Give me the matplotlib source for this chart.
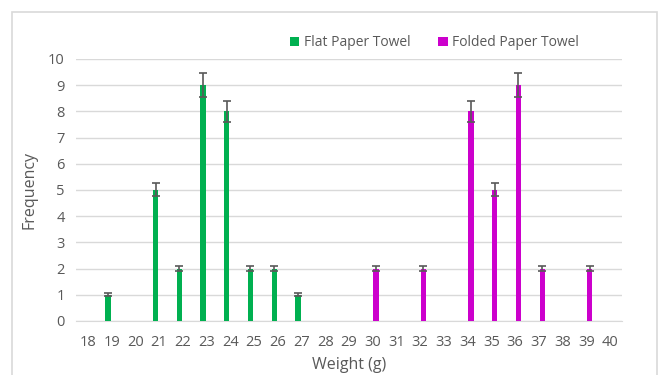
import matplotlib.pyplot as plt
import numpy as np
from matplotlib.patches import Rectangle

weights = list(range(18, 41))
flat = [0, 1, 0, 5, 2, 9, 8, 2, 2, 1, 0, 0, 0, 0, 0, 0, 0, 0, 0, 0, 0, 0, 0]
folded = [0, 0, 0, 0, 0, 0, 0, 0, 0, 0, 0, 0, 2, 0, 2, 0, 8, 5, 9, 2, 0, 2, 0]

plt.rcParams['font.family'] = ['Open Sans', 'DejaVu Sans']
grey = '#595959'

fig = plt.figure(figsize=(6.6, 3.75), dpi=100)
ax = fig.add_axes([0.1152, 0.144, 0.827, 0.699])

x = np.arange(len(weights))
flat = np.array(flat, dtype=float)
folded = np.array(folded, dtype=float)
w = 0.22

# only plot nonzero values so empty categories get no error caps
m1 = flat > 0
m2 = folded > 0
ax.bar(x[m1] - 0.15, flat[m1], width=w, color='#00B050', label='Flat Paper Towel', zorder=3)
ax.bar(x[m2] + 0.14, folded[m2], width=w, color='#CC00CC', label='Folded Paper Towel', zorder=3)
ax.errorbar(x[m1] - 0.15, flat[m1], yerr=0.05 * flat[m1], fmt='none', ecolor=grey,
            elinewidth=1.2, capsize=3.1, capthick=1.2, zorder=4)
ax.errorbar(x[m2] + 0.14, folded[m2], yerr=0.05 * folded[m2], fmt='none', ecolor=grey,
            elinewidth=1.2, capsize=3.1, capthick=1.2, zorder=4)

ax.set_xlim(-0.5, len(weights) - 0.5)
ax.set_ylim(0, 10)
ax.set_yticks(range(0, 11))
ax.set_xticks(x)
ax.set_xticklabels([str(v) for v in weights])
ax.grid(axis='y', color='#d9d9d9', linewidth=1, zorder=0)
ax.tick_params(length=0, colors=grey, labelsize=10.5)
ax.tick_params(axis='x', pad=10)
ax.tick_params(axis='y', pad=8)
for s in ['top', 'right', 'left']:
    ax.spines[s].set_visible(False)
ax.spines['bottom'].set_color('#d9d9d9')

ax.set_xlabel('Weight (g)', color=grey, fontsize=11.5, labelpad=5)
ax.set_ylabel('Frequency', color=grey, fontsize=11.5, labelpad=8)

fig.legend(loc='center', bbox_to_anchor=(0.658, 0.886), ncol=2, frameon=False,
           fontsize=10, labelcolor=grey, handlelength=0.7, handleheight=0.7,
           handletextpad=0.3, columnspacing=2.0)

# outer chart border
fig.patches.append(Rectangle((12 / 660, -0.05), 645 / 660, 1 - 12 / 375 + 0.05,
                             transform=fig.transFigure, fill=False,
                             edgecolor='#d9d9d9', linewidth=1.2))

fig.savefig('out.png', dpi=100)
